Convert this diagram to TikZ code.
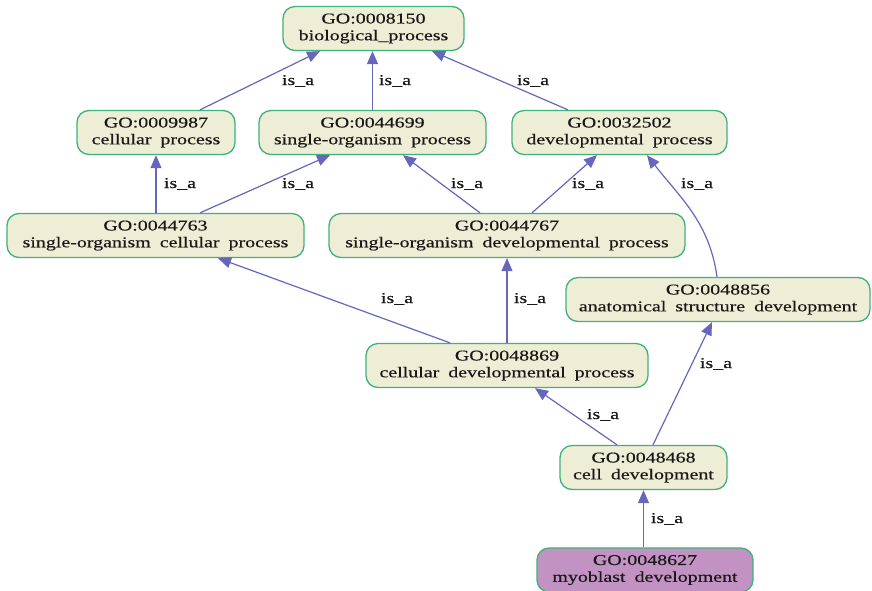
\documentclass[tikz,border=0pt]{standalone}
\usepackage{fontspec}
\setmainfont[FakeStretch=1.33,WordSpace=1.8,FakeBold=0.4]{Liberation Serif}
\usetikzlibrary{arrows.meta,calc}
\definecolor{nodefill}{RGB}{238,237,214}
\definecolor{nodedraw}{RGB}{62,178,122}
\definecolor{leaffill}{RGB}{194,146,194}
\definecolor{edgecol}{RGB}{102,102,188}
\definecolor{txt}{RGB}{25,25,25}
\begin{document}
\begin{tikzpicture}[x=1pt,y=-1pt,
  goterm/.style={draw=nodedraw,fill=nodefill,line width=1.3pt,rounded corners=12pt,
    minimum height=44pt,align=center,inner sep=0pt,text=txt,
    font=\fontsize{15}{16.8}\selectfont},
  leaf/.style={goterm,fill=leaffill},
  rel/.style={draw=edgecol,line width=1.2pt,-{Triangle[length=13pt,width=11pt]}},
  lbl/.style={text=txt,inner sep=0pt,font=\fontsize{15}{17}\selectfont}]
\useasboundingbox (0,0) rectangle (872,590);
\node[goterm,minimum width=181pt] (n1) at (373.5,28.5) {GO:0008150\\biological\_process};
\node[goterm,minimum width=158pt] (n2) at (156,132.5) {GO:0009987\\cellular process};
\node[goterm,minimum width=227pt] (n3) at (372.5,132.5) {GO:0044699\\single-organism process};
\node[goterm,minimum width=215pt] (n4) at (619.5,132.5) {GO:0032502\\developmental process};
\node[goterm,minimum width=297pt] (n5) at (155.5,235.5) {GO:0044763\\single-organism cellular process};
\node[goterm,minimum width=356pt] (n6) at (507,235.5) {GO:0044767\\single-organism developmental process};
\node[goterm,minimum width=304pt] (n7) at (718,299.5) {GO:0048856\\anatomical structure development};
\node[goterm,minimum width=282pt] (n8) at (507,365.5) {GO:0048869\\cellular developmental process};
\node[goterm,minimum width=167pt] (n9) at (643.5,467.5) {GO:0048468\\cell development};
\node[leaf,minimum width=216pt] (n10) at (645,570) {GO:0048627\\myoblast development};

\draw[rel] ([xshift=44pt]n2.north) -- ([xshift=-53.5pt]n1.south);
\draw[rel] (n3.north) -- (n3.north |- n1.south);
\draw[rel] ([xshift=-51.5pt]n4.north) -- ([xshift=58.5pt]n1.south);
\draw[rel] (n2.south |- n5.north) -- (n2.south);
\draw[rel] ([xshift=44.5pt]n5.north) -- ([xshift=-42.5pt]n3.south);
\draw[rel] ([xshift=-27pt]n6.north) -- ([xshift=30.5pt]n3.south);
\draw[rel] ([xshift=25pt]n6.north) -- ([xshift=-22.5pt]n4.south);
\draw[rel] ([xshift=-1pt]n7.north) to[out=98,in=-52] ([xshift=27.5pt]n4.south);
\draw[rel] ([xshift=-57pt]n8.north) -- ([xshift=62.5pt]n5.south);
\draw[rel] (n8.north) -- (n8.north |- n6.south);
\draw[rel] ([xshift=-26.5pt]n9.north) -- ([xshift=28pt]n8.south);
\draw[rel] ([xshift=9.5pt]n9.north) -- ([xshift=-6pt]n7.south);
\draw[rel] (n9.south |- n10.north) -- (n9.south);

\node[lbl] (l21) at (298,81) {is\_a};
\node[lbl] (l31) at (395,81) {is\_a};
\node[lbl] (l41) at (533,81) {is\_a};
\node[lbl] (l52) at (180,184) {is\_a};
\node[lbl] (l53) at (298,184) {is\_a};
\node[lbl] (l63) at (467,184) {is\_a};
\node[lbl] (l64) at (588,184) {is\_a};
\node[lbl] (l74) at (697,184) {is\_a};
\node[lbl] (l85) at (397,299) {is\_a};
\node[lbl] (l86) at (530,299) {is\_a};
\node[lbl] (l98) at (603,415) {is\_a};
\node[lbl] (l97) at (716,364) {is\_a};
\node[lbl] (l109) at (667,519) {is\_a};
\end{tikzpicture}
\end{document}
